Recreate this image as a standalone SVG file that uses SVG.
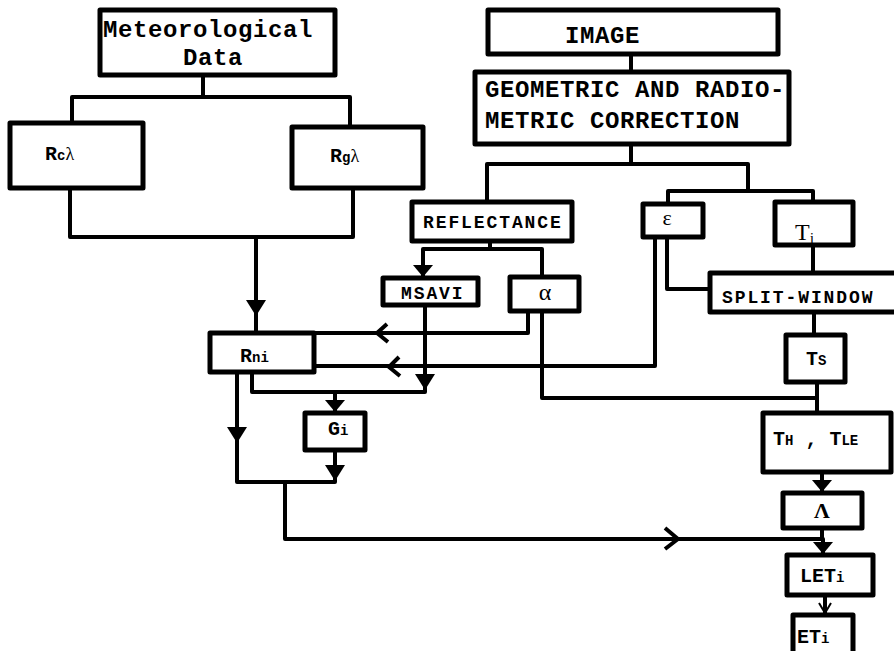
<svg xmlns="http://www.w3.org/2000/svg" width="894" height="651" viewBox="0 0 894 651">
<style>
.box{fill:#fff;stroke:#000;stroke-width:5;stroke-linejoin:round}
.ln{fill:none;stroke:#000;stroke-width:4;stroke-linejoin:round}
.thin{fill:none;stroke:#000;stroke-width:2}
.ah{fill:#000;stroke:none}
.big{font-family:"Liberation Mono",monospace;font-weight:bold;font-size:24px;letter-spacing:0.6px;fill:#000}
.mid{font-family:"Liberation Mono",monospace;font-weight:bold;font-size:18px;letter-spacing:1.9px;fill:#000}
.lab{font-family:"Liberation Mono",monospace;font-weight:bold;font-size:20px;fill:#000}
.sub{font-size:14px}
.ser{font-family:"Liberation Serif",serif;fill:#000}
</style>
<defs>
<path id="tri" d="M-10,-16 L10,-16 L0,0 Z"/>
<path id="triS" d="M-10,-12 L10,-12 L0,0 Z"/>
</defs>
<g id="connectors">
<path class="ln" d="M203,75 V97 M72,123 V97 H350 V127"/>
<path class="ln" d="M70,188 V237 H353 V188 M256,237 V333"/>
<path class="ln" d="M631,54 V72"/>
<path class="ln" d="M631,144 V164 M487,202 V164 H748 V191 M668,204 V191 H813 V202"/>
<path class="ln" d="M490,241 V249 M423,276 V249 H542 V277"/>
<path class="ln" d="M813,245 V273"/>
<path class="ln" d="M667,237 V289 H710"/>
<path class="ln" d="M655,237 V366 H314"/>
<path class="ln" d="M528,311 V333 H314"/>
<path class="ln" d="M542,311 V398 H817"/>
<path class="ln" d="M425,305 V392 H252 V372 M335,392 V412"/>
<path class="ln" d="M237,372 V482 H335 V450"/>
<path class="ln" d="M285,482 V539 H823 V555"/>
<path class="ln" d="M814,312 V335"/>
<path class="ln" d="M817,382 V413"/>
<path class="ln" d="M822,472 V493"/>
<path class="ln" d="M822,528 V540"/>
<path class="ln" d="M825,595 V615"/>
<use href="#tri" x="256" y="316"/>
<use href="#triS" x="423" y="277"/>
<use href="#tri" x="425" y="390"/>
<use href="#triS" x="335" y="412"/>
<use href="#tri" x="237" y="443"/>
<use href="#tri" x="335" y="481"/>
<use href="#triS" x="822" y="492"/>
<use href="#triS" x="823" y="554"/>
<path class="ln" d="M387,324 L377,333 L388,342"/>
<path class="ln" d="M399,357 L389,367 L400,376"/>
<path class="ln" d="M665,528 L678,539 L665,549"/>
<path class="thin" d="M819,603 L825,613 L831,603"/>
</g>
<g id="met"><rect class="box" x="100" y="10" width="235" height="65"/><text class="big" x="103" y="37">Meteorological</text><text class="big" x="183" y="65">Data</text></g>
<g id="rc"><rect class="box" x="10" y="123" width="133" height="65"/><text class="lab" x="45" y="160">R<tspan class="sub">c</tspan><tspan class="ser" font-size="18" font-weight="normal">λ</tspan></text></g>
<g id="rg"><rect class="box" x="292" y="127" width="131" height="61"/><text class="lab" x="330" y="162">R<tspan class="sub">g</tspan><tspan class="ser" font-size="18" font-weight="normal">λ</tspan></text></g>
<g id="image"><rect class="box" x="488" y="10" width="290" height="44"/><text class="big" x="565" y="43">IMAGE</text></g>
<g id="geo"><rect class="box" x="475" y="72" width="314" height="72"/><text class="big" x="485" y="97">GEOMETRIC AND RADIO-</text><text class="big" x="485" y="128">METRIC CORRECTION</text></g>
<g id="refl"><rect class="box" x="412" y="202" width="160" height="39"/><text class="mid" x="423" y="228">REFLECTANCE</text></g>
<g id="eps"><rect class="box" x="643" y="204" width="60" height="33"/><text class="ser" x="667" y="225" font-size="22" text-anchor="middle">ε</text></g>
<g id="tj"><rect class="box" x="775" y="202" width="78" height="43"/><text class="ser" x="795" y="240" font-size="24">T<tspan font-size="15" dy="3">j</tspan></text></g>
<g id="msavi"><rect class="box" x="383" y="278" width="95" height="27"/><text class="mid" x="401" y="299" letter-spacing="1.3">MSAVI</text></g>
<g id="alpha"><rect class="box" x="510" y="277" width="69" height="34"/><text class="ser" x="545" y="300" font-size="24" text-anchor="middle">α</text></g>
<g id="split"><rect class="box" x="710" y="273" width="195" height="39"/><text class="mid" x="722" y="303">SPLIT-WINDOW</text></g>
<g id="rni"><rect class="box" x="210" y="333" width="104" height="39"/><text class="lab" x="240" y="362">R<tspan class="sub">ni</tspan></text></g>
<g id="gi"><rect class="box" x="305" y="413" width="60" height="37"/><text class="lab" x="328" y="435">G<tspan class="sub">i</tspan></text></g>
<g id="ts"><rect class="box" x="786" y="335" width="59" height="47"/><text class="lab" x="806" y="365">T<tspan class="sub">S</tspan></text></g>
<g id="th"><rect class="box" x="763" y="413" width="128" height="59"/><text class="lab" x="773" y="445">T<tspan class="sub">H</tspan> , T<tspan class="sub">LE</tspan></text></g>
<g id="lambda"><rect class="box" x="783" y="493" width="79" height="35"/><text class="ser" x="822" y="518" font-size="22" font-weight="bold" text-anchor="middle">Λ</text></g>
<g id="leti"><rect class="box" x="787" y="555" width="86" height="40"/><text class="lab" x="800" y="582">LET<tspan class="sub">i</tspan></text></g>
<g id="eti"><rect class="box" x="793" y="615" width="60" height="45"/><text class="lab" x="797" y="643">ET<tspan class="sub">i</tspan></text></g>
</svg>
